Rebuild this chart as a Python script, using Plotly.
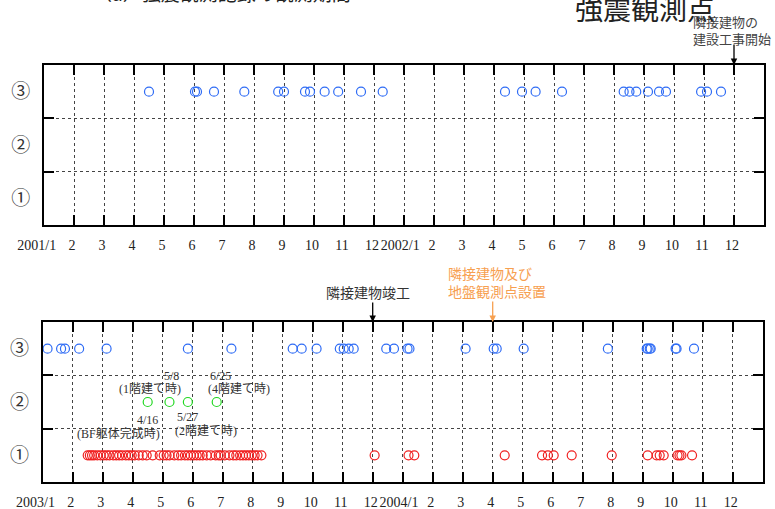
import calendar
import plotly.graph_objects as go

# ---------------- data ----------------
# Top panel (2001/1 - 2002/12): records at station 3
top_st3_dates = ["2001-04-16", "2001-06-02", "2001-06-04", "2001-06-21", "2001-07-22",
                 "2001-08-26", "2001-09-01", "2001-09-22", "2001-09-27", "2001-10-12",
                 "2001-10-26", "2001-11-18", "2001-12-10", "2002-04-12", "2002-04-29",
                 "2002-05-13", "2002-06-09", "2002-08-11", "2002-08-17", "2002-08-24",
                 "2002-09-05", "2002-09-16", "2002-09-23", "2002-10-29", "2002-11-04",
                 "2002-11-18"]

# Bottom panel (2003/1 - 2004/12)
bot_st3_dates = ["2003-01-06", "2003-01-20", "2003-01-24", "2003-02-07", "2003-03-05",
                 "2003-05-27", "2003-07-10", "2003-09-11", "2003-09-20", "2003-10-05",
                 "2003-10-29", "2003-11-02", "2003-11-07", "2003-11-12", "2003-12-15",
                 "2003-12-23", "2004-01-06", "2004-01-08", "2004-03-04", "2004-04-02",
                 "2004-04-05", "2004-05-02", "2004-07-27", "2004-09-05", "2004-09-06",
                 "2004-09-08", "2004-09-09", "2004-10-04", "2004-10-05", "2004-10-23"]

bot_st2_dates = ["2003-04-16", "2003-05-08", "2003-05-27", "2003-06-25"]

bot_st1_dates = ["2003-02-15", "2003-02-17", "2003-02-19", "2003-02-21", "2003-02-24",
                 "2003-02-27", "2003-03-02", "2003-03-05", "2003-03-08", "2003-03-12",
                 "2003-03-15", "2003-03-18", "2003-03-21", "2003-03-25", "2003-03-28",
                 "2003-03-31", "2003-04-03", "2003-04-07", "2003-04-11", "2003-04-15",
                 "2003-04-21", "2003-04-28", "2003-05-02", "2003-05-05", "2003-05-08",
                 "2003-05-13", "2003-05-17", "2003-05-20", "2003-05-24", "2003-05-27",
                 "2003-05-30", "2003-06-02", "2003-06-05", "2003-06-08", "2003-06-11",
                 "2003-06-15", "2003-06-19", "2003-06-24", "2003-06-27", "2003-06-29",
                 "2003-07-03", "2003-07-08", "2003-07-12", "2003-07-15", "2003-07-19",
                 "2003-07-22", "2003-07-25", "2003-07-28", "2003-07-31", "2003-08-03",
                 "2003-08-06", "2003-08-10", "2003-12-03", "2004-01-07", "2004-01-13",
                 "2004-04-13", "2004-05-21", "2004-05-27", "2004-06-02", "2004-06-20",
                 "2004-07-31", "2004-09-06", "2004-09-15", "2004-09-18", "2004-09-22",
                 "2004-10-06", "2004-10-08", "2004-10-10", "2004-10-21"]

station_labels = ["①", "②", "③"]
station_values = [1, 2, 3]

top_month_labels = ["2001/1", "2", "3", "4", "5", "6", "7", "8", "9", "10", "11", "12",
                    "2002/1", "2", "3", "4", "5", "6", "7", "8", "9", "10", "11", "12"]
bot_month_labels = ["2003/1", "2", "3", "4", "5", "6", "7", "8", "9", "10", "11", "12",
                    "2004/1", "2", "3", "4", "5", "6", "7", "8", "9", "10", "11", "12"]

TOP_BASE = 2001
BOT_BASE = 2003

# event markers (month index on each panel)
event_top_start = "2002-12-01"     # 隣接建物の建設工事開始
event_bot_done = "2003-12-01"      # 隣接建物竣工
event_bot_ground = "2004-04-01"    # 隣接建物及び地盤観測点設置


def month_pos(date, base_year):
    y, m, d = map(int, date.split("-"))
    dim = calendar.monthrange(y, m)[1]
    return (y - base_year) * 12 + (m - 1) + (d - 1) / dim


NB = "\u00a0"


def pad_labels(labels):
    out = []
    for i, t in enumerate(labels):
        if i == 0:
            out.append(t + NB * 3)
        elif i == 12:
            out.append(t + NB * 1)
        else:
            out.append(t)
    return out


BLUE = "#2f6cf5"
RED = "#f02020"
GREEN = "#22d822"
ORANGE = "#f7a050"
W, H = 775, 509


def px(x):
    return x / W


def py(y):
    return 1 - y / H


fig = go.Figure()

mk = dict(symbol="circle-open", size=9, line=dict(width=1.2))

fig.add_trace(go.Scatter(
    x=[month_pos(d, TOP_BASE) for d in top_st3_dates],
    y=[station_values[2]] * len(top_st3_dates),
    mode="markers", marker=dict(color=BLUE, **mk), xaxis="x", yaxis="y"))

fig.add_trace(go.Scatter(
    x=[month_pos(d, BOT_BASE) for d in bot_st3_dates],
    y=[station_values[2]] * len(bot_st3_dates),
    mode="markers", marker=dict(color=BLUE, **mk), xaxis="x2", yaxis="y2"))

fig.add_trace(go.Scatter(
    x=[month_pos(d, BOT_BASE) for d in bot_st2_dates],
    y=[station_values[1]] * len(bot_st2_dates),
    mode="markers", marker=dict(color=GREEN, **mk), xaxis="x2", yaxis="y2"))

fig.add_trace(go.Scatter(
    x=[month_pos(d, BOT_BASE) for d in bot_st1_dates],
    y=[station_values[0]] * len(bot_st1_dates),
    mode="markers", marker=dict(color=RED, **mk), xaxis="x2", yaxis="y2"))

GRIDC = "#444444"
GRIDDASH = "3px,3px"


def xaxis_cfg(labels, domain, anchor):
    return dict(
        domain=domain, anchor=anchor, range=[0, 24], automargin=False,
        tickmode="array", tickvals=list(range(24)), ticktext=pad_labels(labels),
        tickangle=0,
        showline=True, linecolor="black", linewidth=2, mirror="ticks",
        ticks="inside", ticklen=10, tickwidth=1.5, tickcolor="black",
        showgrid=True, gridcolor=GRIDC, griddash=GRIDDASH, gridwidth=1,
        zeroline=False, ticklabelstandoff=6, ticklabelshift=-2,
        tickfont=dict(family="Liberation Serif", size=14, color="#222222"),
    )


def yaxis_cfg(domain, anchor):
    return dict(
        domain=domain, anchor=anchor, range=[0.5, 3.5], automargin=False,
        tickmode="array", tickvals=station_values, ticktext=station_labels,
        ticks="", showgrid=False, zeroline=False,
        showline=True, linecolor="black", linewidth=2, mirror="ticks",
        ticklabelstandoff=8,
        tickfont=dict(family="Noto Sans CJK JP", size=19, color="#333333"),
        minor=dict(tickmode="array", tickvals=[1.5, 2.5], ticks="inside",
                   ticklen=10, tickwidth=1.5, tickcolor="black",
                   showgrid=True, gridcolor=GRIDC, griddash=GRIDDASH, gridwidth=1),
    )


annotations = []

# clipped title at top-left
annotations.append(dict(xref="paper", yref="paper", x=px(222), y=py(-7),
                        text="（a）強震観測記録の観測期間", showarrow=False,
                        font=dict(family="Noto Sans CJK JP", size=19, color="#222"),
                        xanchor="center", yanchor="middle"))
annotations.append(dict(xref="paper", yref="paper", x=px(645), y=py(8),
                        text="強震観測点", showarrow=False,
                        font=dict(family="Noto Sans CJK JP", size=28, color="#222"),
                        xanchor="center", yanchor="middle"))
annotations.append(dict(xref="paper", yref="paper", x=px(691), y=py(10),
                        text="隣接建物の<br>建設工事開始", showarrow=False, align="left",
                        font=dict(family="Noto Sans CJK JP", size=13, color="#444"),
                        xanchor="left", yanchor="top"))
annotations.append(dict(xref="x", yref="y", x=month_pos(event_top_start, TOP_BASE), y=3.5,
                        text="", showarrow=True, ax=0, ay=-22,
                        arrowhead=2, arrowsize=1, arrowwidth=1.3, arrowcolor="black"))

annotations.append(dict(xref="paper", yref="paper", x=px(368), y=py(292),
                        text="隣接建物竣工", showarrow=False,
                        font=dict(family="Noto Sans CJK JP", size=14, color="#333"),
                        xanchor="center", yanchor="middle"))
annotations.append(dict(xref="x2", yref="y2", x=month_pos(event_bot_done, BOT_BASE), y=3.5,
                        text="", showarrow=True, ax=0, ay=-21,
                        arrowhead=2, arrowsize=1, arrowwidth=1.3, arrowcolor="black"))

annotations.append(dict(xref="paper", yref="paper", x=px(446), y=py(282),
                        text="隣接建物及び<br>地盤観測点設置", showarrow=False, align="left",
                        font=dict(family="Noto Sans CJK JP", size=14, color=ORANGE),
                        xanchor="left", yanchor="middle"))
annotations.append(dict(xref="x2", yref="y2", x=month_pos(event_bot_ground, BOT_BASE), y=3.5,
                        text="", showarrow=True, ax=0, ay=-22,
                        arrowhead=2, arrowsize=1, arrowwidth=1.3, arrowcolor=ORANGE))

green_labels = [
    ("5/8", 171, 376), ("(1階建て時)", 150, 389),
    ("6/25", 220, 376), ("(4階建て時)", 239, 389),
    ("4/16", 147, 420), ("(BF躯体完成時)", 118, 433),
    ("5/27", 187, 417), ("(2階建て時)", 206, 431),
]
for t, x, y in green_labels:
    annotations.append(dict(xref="paper", yref="paper", x=px(x), y=py(y), text=t,
                            showarrow=False, xanchor="center", yanchor="middle",
                            font=dict(family="Liberation Serif, Noto Sans CJK JP",
                                      size=12, color="#333")))

fig.update_layout(
    width=W, height=H,
    margin=dict(l=0, r=0, t=0, b=0, autoexpand=False),
    paper_bgcolor="white", plot_bgcolor="white",
    showlegend=False,
    xaxis=xaxis_cfg(top_month_labels, [px(44), px(764)], "y"),
    yaxis=yaxis_cfg([py(225), py(65)], "x"),
    xaxis2=xaxis_cfg(bot_month_labels, [px(42.7), px(762.7)], "y2"),
    yaxis2=yaxis_cfg([py(482), py(322)], "x2"),
    annotations=annotations,
)

fig.write_html("out.html",
               config={"displayModeBar": False},
               post_script="document.body.style.margin='0';"
                           "document.body.style.overflow='hidden';")
